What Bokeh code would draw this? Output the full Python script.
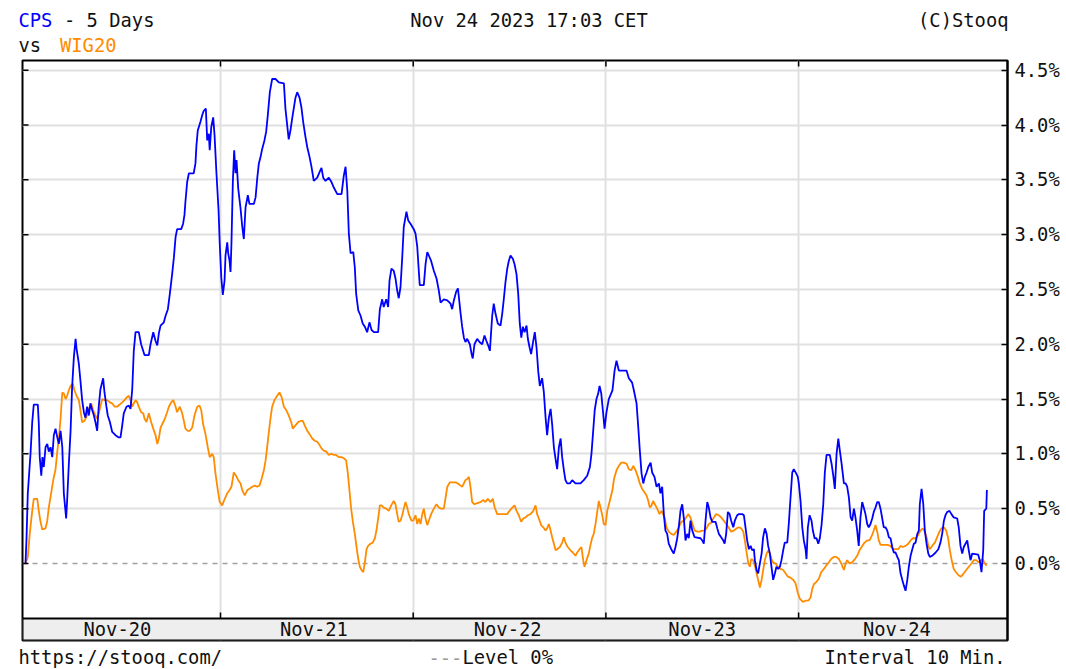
from bokeh.plotting import figure
from bokeh.layouts import column
from bokeh.models import (Range1d, LinearAxis, FixedTicker, Grid, Span,
                          PrintfTickFormatter)
from bokeh.core.properties import value
from bokeh.embed import file_html
from bokeh.resources import INLINE

# ---------------- data ----------------
# time axis: hundredths of a trading day since Monday's open (Nov-20 .. Nov-24)
pct_ticks = [0.0, 0.5, 1.0, 1.5, 2.0, 2.5, 3.0, 3.5, 4.0, 4.5]
day_bounds = [100, 200, 300, 400]
day_labels = ["Nov-20", "Nov-21", "Nov-22", "Nov-23", "Nov-24"]
day_label_x = [46.5, 148.5, 249.0, 350.0, 451.0]

t_cps = [-1.2,-0.7,0.0,1.4,2.3,3.1,5.2,5.7,6.2,7.0,7.6,8.3,9.2,10.1,10.9,11.8,12.7,13.5,14.4,15.3,16.1,17.0,17.9,18.7,19.9,20.4,21.3,22.2,23.0,23.9,24.8,25.3,26.5,27.3,28.2,29.1,29.9,30.8,31.7,32.5,33.4,34.3,35.1,36.0,36.8,37.7,39.1,39.8,40.8,41.5,42.6,43.8,45.5,47.2,48.1,49.0,49.8,51.2,52.4,53.3,54.2,55.0,55.9,57.6,58.8,60.6,62.8,63.7,65.1,66.3,67.2,68.0,68.9,70.6,71.5,72.7,73.7,74.9,75.8,76.7,77.5,79.6,80.6,81.3,81.8,82.7,83.6,86.1,87.0,87.5,88.2,89.6,90.5,91.3,92.4,93.1,93.9,94.4,95.2,96.2,96.9,97.9,99.0,99.6,100.4,101.2,102.1,102.6,103.5,104.0,104.7,105.2,105.7,106.4,107.1,107.8,108.3,109.2,110.4,111.3,112.1,113.0,114.2,115.0,117.3,118.2,119.1,119.9,120.8,121.6,122.8,123.7,124.6,125.6,126.8,128.5,130.3,132.9,133.7,134.6,135.4,136.3,137.2,138.0,138.9,139.8,141.0,142.0,142.9,144.1,145.0,146.2,147.2,148.4,150.2,151.4,152.4,153.3,154.5,156.2,157.6,158.8,160.6,162.8,164.0,164.9,165.8,166.6,167.5,168.9,169.7,170.4,171.5,172.7,173.8,174.9,176.1,177.3,178.4,179.6,181.8,182.7,183.9,184.7,186.0,187.0,187.7,188.7,189.9,190.8,191.7,192.5,193.4,194.3,195.1,196.5,197.4,198.6,200.3,201.2,202.1,202.9,203.4,205.5,206.4,207.3,208.1,209.3,210.7,212.1,213.3,214.2,215.9,217.7,219.4,220.2,221.1,222.3,223.2,223.7,224.6,225.4,226.3,227.1,228.0,229.4,230.3,230.9,231.8,233.2,234.4,235.8,237.0,238.0,238.9,239.8,240.5,241.0,241.8,242.7,243.9,245.3,246.2,247.0,247.9,248.8,249.6,250.5,251.7,252.6,253.6,254.5,255.3,256.1,256.9,257.8,258.8,259.5,260.4,261.2,262.3,263.1,264.0,264.9,265.7,266.9,267.8,268.7,269.5,270.4,271.3,272.1,273.0,273.9,274.7,275.6,276.5,277.3,278.2,279.0,279.9,281.3,282.5,284.2,286.8,288.5,290.3,291.7,292.5,293.4,294.2,295.1,296.0,296.7,297.6,298.4,299.3,300.3,301.5,303.4,304.5,305.5,306.7,310.7,311.9,313.6,314.5,315.9,316.8,317.6,318.5,319.4,320.2,321.1,322.0,323.2,324.0,325.2,326.3,327.5,328.3,329.2,330.1,330.9,331.8,332.6,333.9,335.2,336.1,337.0,337.8,338.7,339.6,340.4,341.3,342.2,343.0,343.9,344.8,346.0,349.1,350.0,350.8,351.7,352.6,353.4,354.3,355.2,356.9,357.8,358.6,359.8,360.9,361.6,362.4,363.3,364.2,365.0,366.1,366.9,368.1,369.0,370.7,371.6,372.5,373.3,374.2,375.1,375.9,376.8,377.3,378.2,379.0,379.9,380.8,381.6,382.5,383.4,384.2,385.1,385.9,386.8,387.7,388.5,389.4,390.3,391.1,392.0,392.8,394.1,394.9,395.8,396.7,397.5,398.8,399.6,400.1,401.0,401.9,402.7,403.6,404.1,404.8,405.7,406.7,407.4,408.3,409.3,410.2,411.0,411.9,412.8,413.6,414.5,416.2,417.1,418.0,418.8,419.7,420.6,421.4,422.3,423.5,424.4,425.2,426.1,427.0,427.8,428.7,429.5,430.4,431.2,432.1,433.0,433.8,434.7,435.6,436.4,437.3,438.2,439.0,439.9,440.8,441.6,442.5,443.4,444.2,445.1,446.0,446.8,447.7,448.6,449.4,450.3,451.2,452.0,452.9,453.8,454.6,455.5,456.4,457.2,458.1,459.0,459.8,460.7,461.6,462.4,462.9,463.8,464.7,465.5,466.4,467.3,468.1,469.3,471.1,472.5,473.6,474.5,475.4,476.2,477.1,478.3,479.3,480.5,482.3,483.1,484.0,484.9,485.7,486.6,487.5,488.3,489.2,490.1,493.2,494.0,494.9,495.8,496.3,497.4,497.7]
cps = [0.00,0.21,0.64,1.00,1.29,1.45,1.45,1.28,0.97,0.80,0.97,0.88,1.06,1.09,1.02,1.06,0.97,1.17,1.23,1.15,1.09,1.21,1.06,0.64,0.41,0.57,0.91,1.21,1.61,1.88,2.05,1.96,1.82,1.67,1.49,1.38,1.33,1.43,1.35,1.46,1.40,1.35,1.29,1.21,1.43,1.59,1.69,1.56,1.43,1.35,1.29,1.20,1.17,1.15,1.15,1.26,1.37,1.43,1.44,1.41,1.59,1.94,2.11,2.11,2.00,1.90,1.90,2.00,2.11,2.03,1.99,2.10,2.17,2.20,2.26,2.32,2.46,2.64,2.79,2.98,3.05,3.05,3.10,3.18,3.30,3.48,3.56,3.56,3.65,3.81,3.95,4.03,4.09,4.13,4.15,3.86,3.92,3.77,3.98,4.07,3.91,3.56,3.22,2.92,2.61,2.45,2.58,2.81,2.93,2.83,2.76,2.66,2.93,3.48,3.77,3.56,3.68,3.42,3.24,3.07,2.96,3.25,3.36,3.28,3.28,3.34,3.52,3.65,3.71,3.78,3.86,3.94,4.10,4.30,4.42,4.42,4.39,4.38,4.15,4.00,3.87,3.95,4.06,4.15,4.25,4.30,4.25,4.16,4.03,3.89,3.80,3.71,3.62,3.49,3.52,3.57,3.61,3.52,3.49,3.52,3.48,3.43,3.37,3.37,3.54,3.62,3.40,3.01,2.83,2.84,2.70,2.46,2.31,2.26,2.19,2.16,2.11,2.20,2.13,2.11,2.11,2.32,2.41,2.34,2.41,2.34,2.58,2.69,2.67,2.60,2.49,2.42,2.52,2.79,3.07,3.21,3.13,3.10,3.05,3.01,2.89,2.67,2.54,2.54,2.73,2.84,2.81,2.76,2.67,2.60,2.49,2.38,2.41,2.40,2.37,2.32,2.40,2.48,2.51,2.43,2.28,2.16,2.06,2.02,2.05,2.00,1.91,1.87,2.00,2.05,2.02,2.00,2.08,2.03,1.99,1.94,2.13,2.26,2.37,2.28,2.19,2.17,2.28,2.41,2.57,2.69,2.76,2.81,2.78,2.73,2.64,2.46,2.19,2.06,2.16,2.11,2.17,2.05,1.97,1.91,2.03,2.11,1.97,1.75,1.62,1.69,1.56,1.33,1.17,1.33,1.41,1.27,1.06,0.95,0.86,1.06,1.14,0.97,0.85,0.76,0.73,0.73,0.76,0.73,0.73,0.76,0.80,0.88,1.00,1.21,1.40,1.50,1.55,1.62,1.55,1.40,1.23,1.38,1.50,1.58,1.76,1.85,1.76,1.76,1.69,1.65,1.58,1.46,1.24,1.03,0.82,0.73,0.79,0.83,0.88,0.92,0.83,0.79,0.70,0.73,0.64,0.70,0.44,0.30,0.27,0.18,0.13,0.09,0.15,0.23,0.33,0.48,0.54,0.42,0.21,0.27,0.23,0.39,0.30,0.24,0.23,0.21,0.18,0.39,0.56,0.51,0.42,0.38,0.38,0.32,0.27,0.24,0.21,0.18,0.27,0.47,0.45,0.39,0.33,0.39,0.44,0.45,0.45,0.44,0.32,0.21,0.13,0.16,0.12,0.13,0.03,-0.06,-0.09,0.00,0.09,0.24,0.32,0.27,0.16,0.09,-0.03,-0.15,-0.09,-0.03,-0.05,-0.03,0.03,0.12,0.19,0.19,0.36,0.60,0.83,0.86,0.82,0.79,0.73,0.57,0.33,0.21,0.13,0.04,0.33,0.44,0.39,0.30,0.23,0.23,0.18,0.23,0.35,0.54,0.83,0.99,0.99,0.91,0.80,0.68,1.00,1.14,1.03,0.91,0.73,0.73,0.70,0.60,0.42,0.39,0.50,0.42,0.30,0.16,0.42,0.56,0.51,0.45,0.36,0.33,0.36,0.41,0.47,0.51,0.56,0.56,0.50,0.41,0.33,0.33,0.30,0.24,0.23,0.15,0.10,0.10,0.06,0.03,-0.09,-0.15,-0.20,-0.25,-0.15,-0.03,0.07,0.13,0.18,0.19,0.27,0.30,0.54,0.68,0.54,0.30,0.18,0.09,0.06,0.07,0.10,0.13,0.19,0.27,0.39,0.44,0.47,0.48,0.45,0.42,0.41,0.33,0.16,0.09,0.15,0.18,0.21,0.12,0.03,0.09,0.08,0.03,-0.08,0.12,0.48,0.50,0.67]

t_wig = [-1.2,0.0,1.0,2.3,3.1,4.9,5.7,6.6,7.5,9.2,10.1,10.9,12.1,13.2,14.4,15.3,16.1,17.0,17.9,18.7,19.6,20.4,21.3,22.2,23.4,24.2,25.3,26.5,27.3,28.2,29.4,30.5,31.7,32.9,33.9,35.1,36.0,37.4,38.6,39.8,41.2,42.6,43.8,45.1,46.4,47.7,49.0,50.2,51.6,52.4,53.3,54.2,55.0,55.9,56.8,57.6,58.8,59.9,60.6,61.6,62.8,64.0,65.1,66.3,67.2,68.0,68.9,69.7,70.6,71.5,72.3,73.2,74.4,75.5,76.7,77.5,78.9,80.1,81.0,81.8,83.0,84.1,85.3,86.5,87.9,89.1,90.0,91.0,92.2,93.4,94.4,95.7,96.5,97.4,98.6,99.6,100.9,102.2,103.5,104.7,105.7,106.9,108.1,109.2,110.4,111.3,112.6,113.9,115.0,116.4,117.8,119.0,120.2,121.3,122.5,123.4,124.2,125.1,125.9,126.8,128.0,129.4,130.6,131.7,132.9,134.1,135.4,136.7,137.5,138.9,140.3,141.5,142.7,143.7,145.0,146.2,147.6,148.9,150.2,151.4,152.4,153.6,154.9,156.2,157.6,158.8,160.0,161.4,162.8,164.0,165.2,166.1,166.9,167.8,168.7,169.7,170.6,171.5,172.3,173.2,174.1,174.9,175.8,176.6,177.8,179.0,180.1,180.9,181.8,182.7,183.6,184.7,186.0,187.3,188.6,189.9,190.8,191.7,192.5,193.4,194.3,195.1,196.0,196.9,197.7,199.1,200.0,201.2,202.1,202.9,203.8,204.7,205.5,206.4,207.3,208.1,209.3,210.7,212.1,213.3,214.5,215.9,216.8,217.7,219.0,222.0,223.2,224.6,225.4,226.3,227.1,228.0,228.9,229.7,230.6,231.8,233.2,234.9,236.3,237.5,238.7,240.1,241.3,242.3,243.6,245.3,247.0,248.8,250.0,251.4,252.6,253.6,254.8,256.0,257.1,258.3,259.5,260.9,262.3,263.5,264.3,265.2,266.4,267.5,268.7,269.5,270.4,271.3,272.1,273.0,273.9,274.7,276.1,277.3,278.2,279.0,280.2,281.6,282.8,284.2,285.1,286.3,287.3,288.2,288.9,289.9,291.1,291.9,292.8,293.7,294.6,295.5,296.3,297.2,298.1,298.9,299.8,300.7,302.0,303.4,304.2,305.5,306.7,307.9,309.3,310.7,311.9,313.1,314.2,315.4,316.6,317.6,318.8,320.0,321.1,322.0,322.8,323.7,324.5,325.4,326.6,327.8,328.9,329.7,330.6,331.4,332.6,333.9,335.2,336.6,337.8,339.1,340.4,341.7,342.7,343.9,345.1,346.1,347.4,348.7,349.9,351.1,352.2,353.4,354.6,356.0,357.2,358.6,359.8,361.2,362.4,363.6,365.0,366.4,367.8,369.0,370.2,371.3,372.1,373.0,373.9,374.7,375.4,376.4,377.3,378.2,379.0,379.9,380.8,381.6,382.5,383.4,384.2,385.1,385.9,386.8,388.0,389.2,390.6,392.0,393.2,394.4,395.8,397.2,398.4,399.6,400.6,402.2,403.6,405.0,406.2,407.1,407.9,409.1,410.5,411.7,413.1,414.3,415.7,416.9,418.3,419.5,420.9,422.1,423.5,424.4,425.2,426.4,427.8,429.2,430.4,431.6,433.0,434.2,435.6,436.8,438.2,439.0,439.9,440.8,441.6,442.5,446.0,447.7,448.9,451.7,452.9,454.1,455.5,456.9,458.1,459.3,460.7,462.1,463.2,464.4,465.5,466.4,467.3,468.1,469.3,470.7,471.9,473.1,474.1,475.4,476.6,477.6,478.4,479.3,480.5,481.7,483.1,484.3,485.7,487.0,488.3,489.7,490.9,492.1,493.5,494.7,495.6,496.5,497.6]
wig = [0.00,0.06,0.27,0.48,0.59,0.59,0.48,0.38,0.31,0.32,0.39,0.51,0.64,0.76,0.86,1.02,1.14,1.32,1.56,1.55,1.50,1.53,1.58,1.62,1.64,1.58,1.53,1.49,1.40,1.29,1.30,1.34,1.41,1.46,1.40,1.35,1.32,1.41,1.50,1.49,1.49,1.47,1.46,1.43,1.43,1.45,1.47,1.49,1.52,1.53,1.49,1.43,1.46,1.49,1.47,1.43,1.38,1.37,1.32,1.29,1.37,1.29,1.23,1.17,1.09,1.14,1.24,1.27,1.30,1.34,1.38,1.43,1.47,1.49,1.43,1.38,1.43,1.37,1.30,1.23,1.21,1.21,1.24,1.35,1.43,1.44,1.40,1.27,1.18,1.06,0.97,1.00,0.97,0.82,0.67,0.56,0.53,0.59,0.64,0.67,0.70,0.83,0.80,0.76,0.73,0.67,0.62,0.67,0.68,0.70,0.71,0.70,0.71,0.77,0.85,0.94,1.06,1.20,1.32,1.43,1.49,1.53,1.56,1.52,1.43,1.40,1.35,1.29,1.23,1.26,1.29,1.30,1.30,1.26,1.21,1.18,1.14,1.12,1.11,1.08,1.05,1.03,1.02,0.99,1.00,0.99,0.99,0.97,0.97,0.96,0.94,0.82,0.67,0.50,0.38,0.27,0.15,0.04,-0.03,-0.06,-0.08,0.01,0.13,0.16,0.18,0.19,0.23,0.30,0.41,0.53,0.53,0.51,0.50,0.48,0.53,0.57,0.54,0.45,0.38,0.39,0.44,0.50,0.56,0.51,0.45,0.39,0.39,0.44,0.36,0.41,0.36,0.45,0.50,0.41,0.35,0.39,0.45,0.50,0.54,0.51,0.50,0.50,0.60,0.70,0.74,0.74,0.73,0.71,0.70,0.73,0.76,0.77,0.79,0.70,0.56,0.54,0.55,0.56,0.58,0.56,0.59,0.56,0.59,0.51,0.45,0.45,0.45,0.45,0.48,0.51,0.53,0.48,0.44,0.38,0.41,0.42,0.44,0.45,0.48,0.53,0.45,0.41,0.35,0.33,0.30,0.32,0.36,0.30,0.24,0.18,0.12,0.13,0.15,0.19,0.24,0.19,0.15,0.12,0.10,0.07,0.10,0.13,0.15,0.03,-0.03,0.03,0.09,0.16,0.23,0.27,0.36,0.47,0.57,0.51,0.44,0.36,0.35,0.48,0.57,0.67,0.77,0.85,0.89,0.92,0.92,0.91,0.86,0.85,0.89,0.85,0.79,0.73,0.68,0.65,0.62,0.57,0.51,0.53,0.57,0.54,0.50,0.45,0.48,0.45,0.41,0.33,0.29,0.27,0.26,0.29,0.33,0.38,0.39,0.42,0.45,0.42,0.35,0.30,0.29,0.29,0.30,0.30,0.32,0.36,0.37,0.42,0.45,0.44,0.42,0.39,0.36,0.33,0.29,0.30,0.32,0.33,0.32,0.29,0.21,0.10,0.00,-0.03,0.04,0.03,-0.02,-0.09,-0.15,-0.22,-0.15,-0.06,0.03,0.09,0.12,0.09,0.04,0.01,0.00,-0.03,-0.05,-0.06,-0.09,-0.12,-0.13,-0.15,-0.18,-0.27,-0.32,-0.35,-0.34,-0.34,-0.31,-0.23,-0.19,-0.17,-0.14,-0.08,-0.05,-0.02,0.01,0.04,0.06,0.06,0.04,0.00,-0.06,0.00,0.03,0.00,0.01,0.04,0.07,0.12,0.16,0.19,0.21,0.21,0.26,0.30,0.35,0.29,0.21,0.17,0.17,0.16,0.13,0.13,0.16,0.15,0.16,0.18,0.21,0.23,0.23,0.26,0.30,0.32,0.29,0.24,0.16,0.13,0.16,0.19,0.24,0.29,0.32,0.33,0.30,0.23,0.13,0.04,-0.05,-0.08,-0.11,-0.12,-0.09,-0.06,-0.03,0.00,0.03,0.03,0.01,0.03,0.04,0.00,-0.02]

# ---------------- style ----------------
W = 1066
FONT = "DejaVu Sans Mono"
FS = "18.8px"
BLUE = "#0000ff"
ORANGE = "#ff8c00"
TXT = "#111111"
GRID = "#e0e0e0"

X_START, X_END = -2.75, 508.4
Y_START, Y_END = -0.703, 4.589
STRIP_TOP = -0.502
PXY = 1.0 / 109.6   # one screen pixel in % units
PXX = 1.0 / 1.927   # one screen pixel in time units


def text_fig(height):
    f = figure(width=W, height=height, x_range=Range1d(0, W), y_range=Range1d(height, 0),
               x_axis_type=None, y_axis_type=None, toolbar_location=None,
               output_backend="svg", min_border=0, min_border_left=0, min_border_right=0,
               min_border_top=0, min_border_bottom=0)
    f.frame_align = False
    f.outline_line_color = None
    f.background_fill_color = "white"
    f.border_fill_color = "white"
    return f


def put(f, x, y, text, color=TXT, align="left"):
    f.text(x=[x], y=[y], text=[text], text_font=value(FONT), text_font_size=FS,
           text_color=color, text_align=align, text_baseline="middle")


# ---------------- header ----------------
head = text_fig(58)
put(head, 18, 20, "CPS", BLUE)
put(head, 63.5, 20, "- 5 Days")
put(head, 18, 45, "vs")
put(head, 59.5, 45, "WIG20", ORANGE)
put(head, 528.5, 20, "Nov 24 2023 17:03 CET", align="center")
put(head, 1008, 20, "(C)Stooq", align="right")

# ---------------- main chart ----------------
p = figure(width=W, height=590,
           x_range=Range1d(X_START, X_END), y_range=Range1d(Y_START, Y_END),
           x_axis_type=None, y_axis_type=None, toolbar_location=None,
           output_backend="svg",
           min_border_left=22, min_border_right=59, min_border_top=2, min_border_bottom=8)
p.frame_align = False
p.outline_line_color = "black"
p.outline_line_width = 2
p.background_fill_color = "white"
p.border_fill_color = "white"

p.add_layout(Grid(dimension=1, ticker=FixedTicker(ticks=[v for v in pct_ticks if v > 0]),
                  grid_line_color=GRID, grid_line_width=2))
p.add_layout(Grid(dimension=0, ticker=FixedTicker(ticks=day_bounds),
                  grid_line_color=GRID, grid_line_width=2))

p.add_layout(Span(location=0, dimension="width", line_color="#a0a0a0",
                  line_dash="5 5", line_width=1.5, level="underlay"))

p.line(t_wig, wig, line_color=ORANGE, line_width=1.8)
p.line(t_cps, cps, line_color=BLUE, line_width=1.8)

# date strip
p.quad(left=[X_START], right=[X_END], bottom=[Y_START], top=[STRIP_TOP],
       fill_color="#eeeeee", line_color="black", line_width=2)
p.text(x=day_label_x, y=[(STRIP_TOP + Y_START) / 2] * len(day_labels), text=day_labels,
       text_font=value(FONT), text_font_size=FS, text_color=TXT,
       text_align="center", text_baseline="middle")

# inner tick marks on bottom, top and left edges
nb = len(day_bounds)
p.segment(x0=day_bounds, y0=[STRIP_TOP] * nb, x1=day_bounds, y1=[STRIP_TOP + 6 * PXY] * nb,
          line_color="black", line_width=1.5)
p.segment(x0=day_bounds, y0=[Y_END] * nb, x1=day_bounds, y1=[Y_END - 6 * PXY] * nb,
          line_color="black", line_width=1.5)
npct = len(pct_ticks)
p.segment(x0=[X_START] * npct, y0=pct_ticks, x1=[X_START + 6 * PXX] * npct, y1=pct_ticks,
          line_color="black", line_width=1.5)

# right percentage axis
ax_r = LinearAxis(ticker=FixedTicker(ticks=pct_ticks),
                  formatter=PrintfTickFormatter(format="%.1f%%"),
                  major_tick_in=6, major_tick_out=0, minor_tick_in=0, minor_tick_out=0,
                  axis_line_color="black", axis_line_width=2, major_tick_line_width=1.5,
                  major_label_text_font=FONT, major_label_text_font_size=FS,
                  major_label_text_color=TXT, major_label_standoff=7)
p.add_layout(ax_r, "right")

# ---------------- footer ----------------
foot = text_fig(21)
put(foot, 18, 9, "https://stooq.com/")
put(foot, 428, 9, "---", "#999999")
put(foot, 462, 9, "Level 0%")
put(foot, 1005, 9, "Interval 10 Min.", align="right")

layout = column(head, p, foot, spacing=0)
open("out.html", "w").write(file_html(layout, INLINE))
